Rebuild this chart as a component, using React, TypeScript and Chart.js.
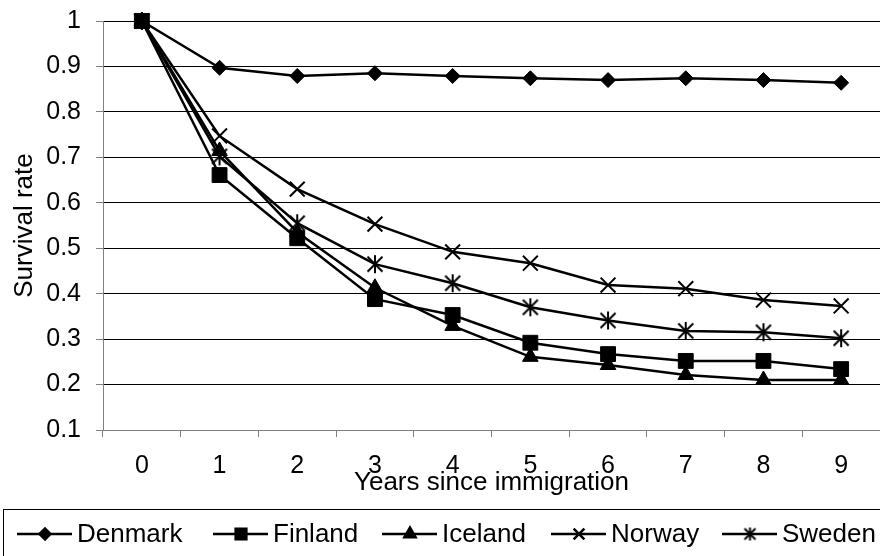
import React, { useEffect, useRef } from 'react';
import { Chart, registerables } from 'chart.js';
import { drawPoint } from 'chart.js/helpers';

Chart.register(...registerables);

const years = ['0', '1', '2', '3', '4', '5', '6', '7', '8', '9'];
const denmark = [1, 0.897, 0.879, 0.885, 0.879, 0.874, 0.870, 0.874, 0.870, 0.864];
const finland = [1, 0.661, 0.522, 0.388, 0.353, 0.292, 0.267, 0.252, 0.252, 0.234];
const iceland = [1, 0.714, 0.535, 0.413, 0.329, 0.261, 0.243, 0.221, 0.210, 0.210];
const norway = [1, 0.747, 0.630, 0.553, 0.492, 0.467, 0.419, 0.411, 0.386, 0.373];
const sweden = [1, 0.702, 0.555, 0.465, 0.423, 0.370, 0.341, 0.318, 0.315, 0.302];

const FONT = "'Liberation Sans', Arial, sans-serif";
const W = 880;
const H = 556;

// Legend entry positions (left end of each sample line)
const legendX = [17, 213, 382, 551, 722];

// Asterisk marker: an X with a vertical bar through it
function makeAsterisk(d: number, v: number, lw: number): HTMLCanvasElement {
  const size = Math.ceil(2 * Math.max(d, v) + lw + 2);
  const c = document.createElement('canvas');
  c.width = size;
  c.height = size;
  const g = c.getContext('2d')!;
  const m = size / 2;
  g.strokeStyle = '#000';
  g.lineWidth = lw;
  g.beginPath();
  g.moveTo(m - d, m - d); g.lineTo(m + d, m + d);
  g.moveTo(m + d, m - d); g.lineTo(m - d, m + d);
  g.moveTo(m, m - v); g.lineTo(m, m + v);
  g.stroke();
  return c;
}

// Keep the plot area where the layout padding puts it
function noEdgePadding(scale: any) {
  scale.paddingTop = 0;
  scale.paddingBottom = 0;
  scale.paddingLeft = 0;
  scale.paddingRight = 0;
}

const legendBox = {
  id: 'legendBox',
  afterDraw(chart: any) {
    const ctx = chart.ctx as CanvasRenderingContext2D;
    ctx.save();
    ctx.strokeStyle = '#000';
    ctx.lineWidth = 1;
    ctx.strokeRect(3.5, 509.5, W + 10, 60);
    ctx.font = `26px ${FONT}`;
    ctx.textBaseline = 'middle';
    ctx.textAlign = 'left';
    const y = 534;
    chart.data.datasets.forEach((ds: any, i: number) => {
      const x = legendX[i];
      ctx.strokeStyle = '#000';
      ctx.fillStyle = '#000';
      ctx.lineWidth = 2.5;
      ctx.beginPath();
      ctx.moveTo(x, y);
      ctx.lineTo(x + 55, y);
      ctx.stroke();
      drawPoint(ctx, {
        pointStyle: ds.legendStyle ?? ds.pointStyle,
        radius: ds.pointRadius * 0.72,
        borderWidth: ds.pointBorderWidth,
        rotation: 0,
      } as any, x + 28, y);
      ctx.fillStyle = '#000';
      ctx.fillText(ds.label, x + 60, y + 1);
    });
    ctx.restore();
  },
};

export default function App() {
  const ref = useRef<HTMLCanvasElement>(null);

  useEffect(() => {
    const canvas = ref.current!;
    const common = {
      borderColor: '#000',
      backgroundColor: '#000',
      pointBackgroundColor: '#000',
      pointBorderColor: '#000',
      borderWidth: 2.5,
      tension: 0,
      clip: false as const,
    };
    const chart = new Chart(canvas, {
      type: 'line',
      data: {
        labels: years,
        datasets: [
          { ...common, label: 'Denmark', data: denmark, pointStyle: 'rectRot', pointRadius: 7.5, pointBorderWidth: 1, order: 5 },
          { ...common, label: 'Finland', data: finland, pointStyle: 'rect', pointRadius: 10.5, pointBorderWidth: 1, order: 4 },
          { ...common, label: 'Iceland', data: iceland, pointStyle: 'triangle', pointRadius: 9, pointBorderWidth: 1, order: 3 },
          { ...common, label: 'Norway', data: norway, pointStyle: 'crossRot', pointRadius: 10.5, pointBorderWidth: 2, order: 2 },
          {
            ...common, label: 'Sweden', data: sweden,
            pointStyle: makeAsterisk(7.5, 9, 2), legendStyle: makeAsterisk(5.5, 6.5, 2),
            pointRadius: 9, pointBorderWidth: 2, order: 1,
          } as any,
        ],
      },
      options: {
        responsive: false,
        animation: false,
        devicePixelRatio: 1,
        layout: { autoPadding: false, padding: { top: 21, right: -5, bottom: 52, left: 0 } },
        plugins: {
          legend: { display: false },
          tooltip: { enabled: false },
        },
        scales: {
          x: {
            offset: true,
            border: { color: '#808080', width: 1 },
            grid: { drawOnChartArea: false, tickColor: '#808080', tickLength: 7, offset: true },
            ticks: { color: '#000', font: { family: FONT, size: 25 }, padding: 14, maxRotation: 0 },
            title: {
              display: true,
              text: 'Years since immigration',
              color: '#000',
              font: { family: FONT, size: 26 },
              padding: { top: 0, bottom: 6 },
            },
            afterFit(scale: any) { scale.height = 74; noEdgePadding(scale); },
          },
          y: {
            min: 0.1,
            max: 1,
            border: { color: '#808080', width: 1 },
            grid: { color: '#000', lineWidth: 1, tickColor: '#808080', tickLength: 7 },
            ticks: {
              stepSize: 0.1,
              color: '#000',
              font: { family: FONT, size: 25 },
              padding: 15,
              callback: (v: any) => String(Math.round(Number(v) * 10) / 10),
            },
            title: {
              display: true,
              text: 'Survival rate',
              color: '#000',
              font: { family: FONT, size: 26 },
              padding: { top: 9, bottom: 0 },
            },
            afterFit(scale: any) { scale.width = 103; noEdgePadding(scale); },
          },
        },
      },
      plugins: [legendBox],
    });
    return () => chart.destroy();
  }, []);

  return (
    <div style={{ position: 'fixed', left: 0, top: 0, width: W, height: H, overflow: 'hidden', background: '#fff' }}>
      <canvas ref={ref} width={W} height={H} style={{ display: 'block' }} />
    </div>
  );
}
